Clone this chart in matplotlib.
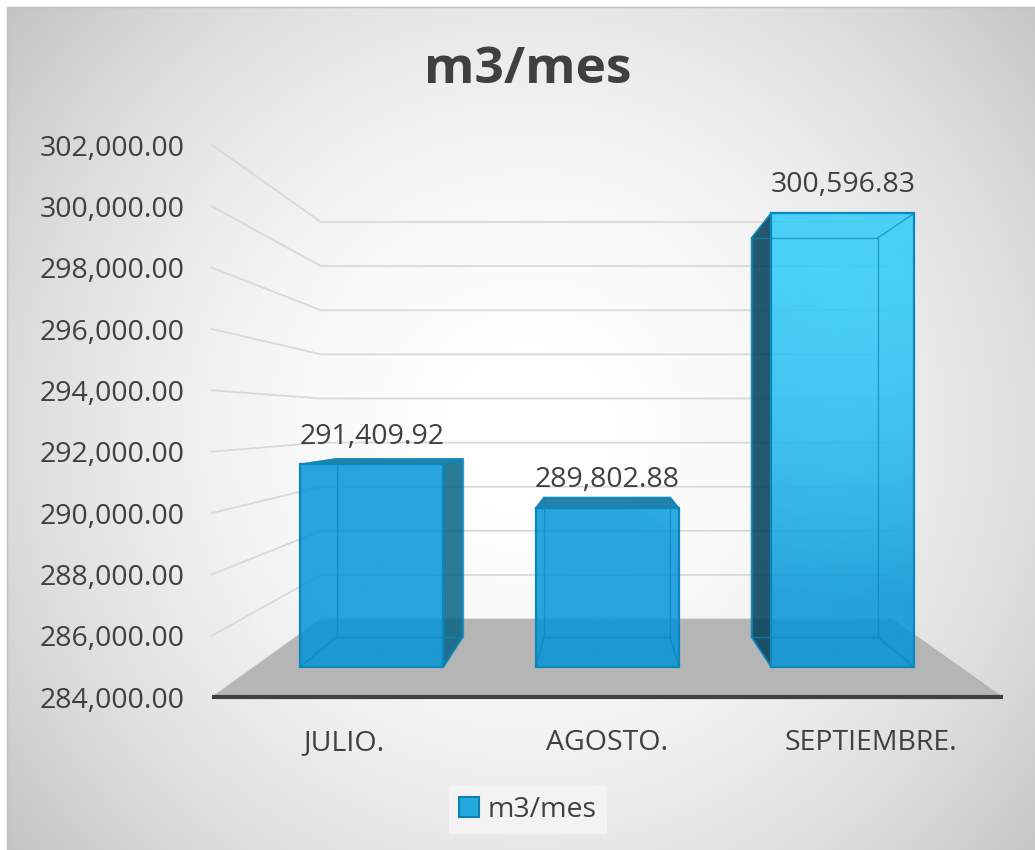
import numpy as np
import matplotlib.pyplot as plt
from matplotlib.patches import Polygon, Rectangle, Patch
from matplotlib.ticker import FuncFormatter

# datos
meses = ["JULIO.", "AGOSTO.", "SEPTIEMBRE."]
m3_mes = [291409.92, 289802.88, 300596.83]
y_ticks = [284000, 286000, 288000, 290000, 292000, 294000, 296000, 298000, 300000, 302000]
titulo = "m3/mes"

plt.rcParams['font.family'] = ['Open Sans', 'DejaVu Sans']
TXT = '#404040'
FS = 20.5
W, H = 1035, 850
fig = plt.figure(figsize=(W / 100, H / 100), dpi=100)

# fondo con degradado radial
bg = fig.add_axes([0, 0, 1, 1], zorder=0)
yy, xx = np.mgrid[7:H, 7:W]
r = np.hypot(xx - 530, yy - 430) / 675
g = np.clip(255 - 60 * r ** 2, 190, 255) / 255
bg.imshow(np.dstack([g, g, g]), extent=(7, W, H, 7), aspect='auto', interpolation='bilinear')
bg.add_patch(Rectangle((7, 7), W, H, fill=False, ec='#c0c0c0', lw=1))
bg.set_xlim(0, W)
bg.set_ylim(H, 0)
bg.axis('off')

# eje frontal (plano delantero del grafico 3D)
ax = fig.add_axes([212 / W, (H - 697) / H, 791 / W, 552 / H], zorder=1)
ax.patch.set_visible(False)
x0, x1 = -0.5, len(meses) - 0.5
v0, v1 = y_ticks[0], y_ticks[-1]
for s in ax.spines.values():
    s.set_visible(False)

# plano del fondo expresado en unidades del eje frontal
BACK_X = (-0.087, 2.083)
BACK_V = (286540, 299490)
D0, D1 = 0.385, 0.77   # profundidad de las barras (0 = frente, 1 = fondo)
HW = 0.304             # media anchura de barra


def proj(x, v, d):
    xb = BACK_X[0] + (x - x0) / (x1 - x0) * (BACK_X[1] - BACK_X[0])
    vb = BACK_V[0] + (v - v0) / (v1 - v0) * (BACK_V[1] - BACK_V[0])
    return x + (xb - x) * d, v + (vb - v) * d


# lineas de division: pared izquierda + pared del fondo
for t in y_ticks:
    pts = [proj(x0, t, 0), proj(x0, t, 1), proj(x1, t, 1)]
    ax.plot(*zip(*pts), color='#d9d9d9', lw=1.3, zorder=1, clip_on=False)

# suelo
suelo = [proj(x0, v0, 0), proj(x1, v0, 0), proj(x1, v0, 1), proj(x0, v0, 1)]
ax.add_patch(Polygon(suelo, closed=True, fc='#b5b5b5', ec='none', zorder=2))
ax.plot([x0, x1], [v0, v0], color='#404040', lw=3, zorder=3,
        solid_capstyle='butt', clip_on=False)

# degradado para la cara frontal (luz arriba a la derecha)
fy, fx = np.mgrid[0:1:300j, 0:1:300j]
dist = np.hypot((fx - 0.82) * 791, (fy - 0.90) * 552)
f = np.clip(1 - (dist / 400) ** 2, 0, 1)[..., None]
base = np.array([0, 147, 217]) / 255
luz = np.array([45, 205, 250]) / 255
grad = base + (luz - base) * f

EDGE = '#0a88bd'
for i, v in enumerate(m3_mes):
    xl, xr = i - HW, i + HW
    frente = [proj(xl, v0, D0), proj(xr, v0, D0), proj(xr, v, D0), proj(xl, v, D0)]
    fondo = [proj(xl, v0, D1), proj(xr, v0, D1), proj(xr, v, D1), proj(xl, v, D1)]

    # caras visibles
    if fondo[1][0] > frente[1][0]:
        lado = [frente[1], fondo[1], fondo[2], frente[2]]
        ax.add_patch(Polygon(lado, fc='#056386', alpha=0.85, ec=EDGE, lw=1.2, zorder=4))
    if fondo[0][0] < frente[0][0]:
        lado = [frente[0], fondo[0], fondo[3], frente[3]]
        ax.add_patch(Polygon(lado, fc='#003d55', alpha=0.85, ec=EDGE, lw=1.2, zorder=4))
    if fondo[2][1] > frente[2][1]:
        tapa = [frente[3], frente[2], fondo[2], fondo[3]]
        ax.add_patch(Polygon(tapa, fc='#006c99', alpha=0.85, ec=EDGE, lw=1.2, zorder=4))

    cara = Polygon(frente, closed=True, fc='none', ec=EDGE, lw=1.6, zorder=7)
    ax.add_patch(cara)
    im = ax.imshow(grad, extent=(x0, x1, v0, v1), origin='lower', aspect='auto',
                   alpha=0.84, zorder=5, interpolation='bilinear')
    im.set_clip_path(cara)

    # aristas interiores (se ven a traves de la barra)
    fx_, fy_ = zip(*(fondo + [fondo[0]]))
    ax.plot(fx_, fy_, color=EDGE, lw=1.0, alpha=0.7, zorder=6, clip_on=False)
    for a, b in zip(frente, fondo):
        ax.plot([a[0], b[0]], [a[1], b[1]], color=EDGE, lw=1.0, alpha=0.7, zorder=6,
                clip_on=False)

    ax.annotate(f"{v:,.2f}", xy=proj(i, v, D0), xytext=(0, 20), textcoords='offset points',
                ha='center', va='center', fontsize=FS, color=TXT)

ax.set_xlim(x0, x1)
ax.set_ylim(v0, v1)
ax.set_yticks(y_ticks)
ax.yaxis.set_major_formatter(FuncFormatter(lambda t, p: f"{t:,.2f}"))
ax.set_xticks(range(len(meses)), meses)
ax.tick_params(axis='both', length=0, labelsize=FS, labelcolor=TXT)
ax.tick_params(axis='y', pad=19.5)
ax.tick_params(axis='x', pad=23)

fig.text(528 / W, 1 - 70 / H, titulo, ha='center', va='center', fontsize=37,
         fontweight='bold', color=TXT)

h = Patch(fc='#26a9df', ec='#0d80b2', lw=1.5, label=titulo)
leg = fig.legend(handles=[h], loc='center', bbox_to_anchor=(528 / W, 1 - 810 / H),
                 frameon=True, facecolor='#f3f3f3', edgecolor='none', fancybox=False,
                 framealpha=1, fontsize=FS, handlelength=0.7, handleheight=0.7,
                 handletextpad=0.3, borderpad=0.35)
for t in leg.get_texts():
    t.set_color(TXT)

fig.savefig('out.png', dpi=100)
